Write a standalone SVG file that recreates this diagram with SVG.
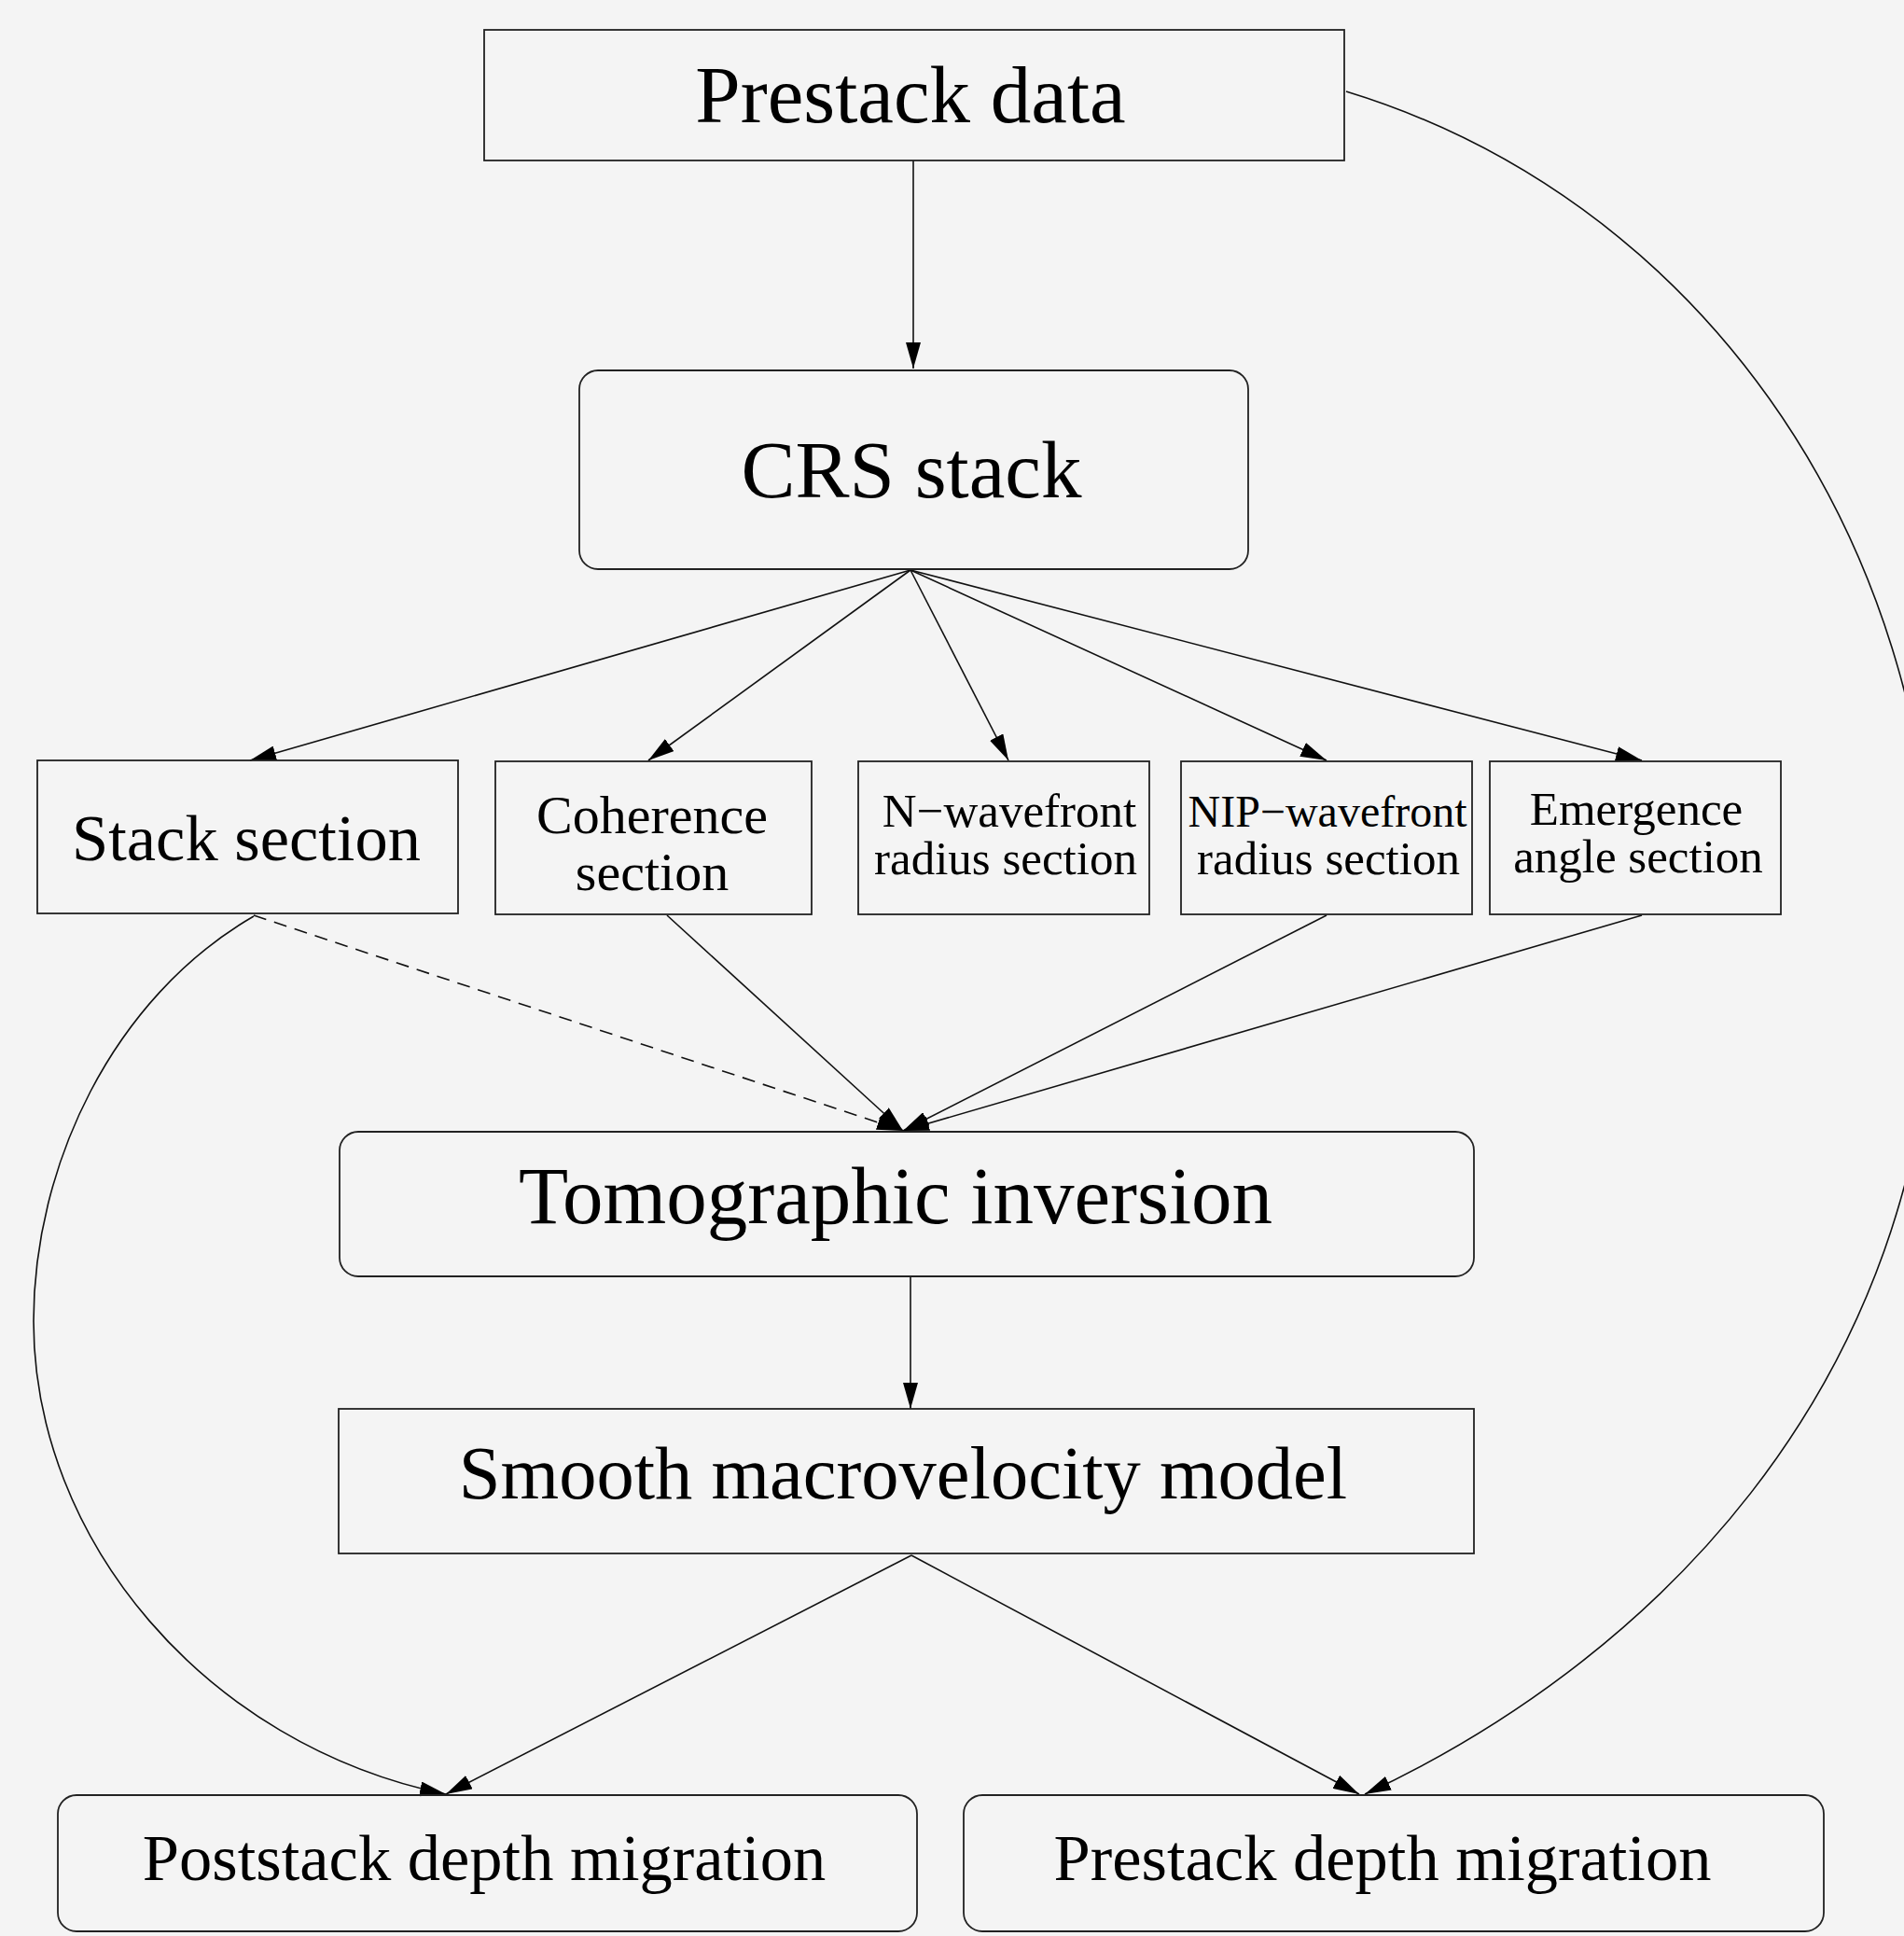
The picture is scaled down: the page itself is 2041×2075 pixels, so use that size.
<svg xmlns="http://www.w3.org/2000/svg" width="2041" height="2075" viewBox="0 0 2041 2075">
<style>
.box{fill:none;stroke:#222;stroke-width:1.8}
.ln{fill:none;stroke:#111;stroke-width:1.6}
.dash{stroke-dasharray:14 9}
text{font-family:"Liberation Serif","Times New Roman",serif;fill:#000;text-anchor:middle}
.f87{font-size:87px}.f80{font-size:80.5px}.f70{font-size:70.5px}.f58{font-size:58px}.f51{font-size:51px}.f48{font-size:48px}
</style>
<defs>
<marker id="arr" viewBox="0 0 28 16" refX="28" refY="8" markerWidth="28" markerHeight="16" markerUnits="userSpaceOnUse" orient="auto">
<path d="M0,0 L28,8 L0,16 z" fill="#000"/>
</marker>
</defs>
<rect width="2041" height="2075" fill="#f4f4f4"/>
<g id="connectors">
<line class="ln" x1="979" y1="172" x2="979" y2="395" marker-end="url(#arr)"/>
<line class="ln" x1="976" y1="611" x2="268" y2="815" marker-end="url(#arr)"/>
<line class="ln" x1="976" y1="611" x2="695" y2="815" marker-end="url(#arr)"/>
<line class="ln" x1="976" y1="611" x2="1081" y2="815" marker-end="url(#arr)"/>
<line class="ln" x1="976" y1="611" x2="1422" y2="815" marker-end="url(#arr)"/>
<line class="ln" x1="976" y1="611" x2="1760" y2="815" marker-end="url(#arr)"/>
<line class="ln dash" x1="272" y1="981" x2="968" y2="1212" marker-end="url(#arr)"/>
<line class="ln" x1="715" y1="981" x2="968" y2="1212" marker-end="url(#arr)"/>
<line class="ln" x1="1422" y1="981" x2="968" y2="1212" marker-end="url(#arr)"/>
<line class="ln" x1="1760" y1="981" x2="968" y2="1212" marker-end="url(#arr)"/>
<line class="ln" x1="976" y1="1368" x2="976" y2="1510" marker-end="url(#arr)"/>
<line class="ln" x1="977" y1="1667" x2="478" y2="1923" marker-end="url(#arr)"/>
<line class="ln" x1="977" y1="1667" x2="1457" y2="1923" marker-end="url(#arr)"/>
<path class="ln" d="M272,982 C120,1070 36,1250 36,1416 C36,1650 220,1870 478,1923" marker-end="url(#arr)"/>
<path class="ln" d="M1443,98 C1810,210 2075,560 2075,1010 C2075,1500 1750,1790 1463,1923" marker-end="url(#arr)"/>
</g>
<g id="prestack-data">
<rect class="box" x="519" y="32" width="922" height="140"/>
<text class="f87" x="976" y="131">Prestack data</text>
</g>
<g id="crs-stack">
<rect class="box" x="621" y="397" width="717" height="213" rx="20" ry="20"/>
<text class="f87" x="977" y="533">CRS stack</text>
</g>
<g id="stack-section">
<rect class="box" x="40" y="815" width="451" height="164"/>
<text class="f70" x="264" y="922">Stack section</text>
</g>
<g id="coherence-section">
<rect class="box" x="531" y="816" width="339" height="164"/>
<text class="f58" x="699" y="893">Coherence</text>
<text class="f58" x="699" y="954">section</text>
</g>
<g id="n-wavefront">
<rect class="box" x="920" y="816" width="312" height="164"/>
<text class="f51" x="1082" y="886">N−wavefront</text>
<text class="f51" x="1078" y="937">radius section</text>
</g>
<g id="nip-wavefront">
<rect class="box" x="1266" y="816" width="312" height="164"/>
<text class="f48" x="1423" y="886">NIP−wavefront</text>
<text class="f51" x="1424" y="937">radius section</text>
</g>
<g id="emergence-angle">
<rect class="box" x="1597" y="816" width="312" height="164"/>
<text class="f51" x="1754" y="884">Emergence</text>
<text class="f51" x="1756" y="935">angle section</text>
</g>
<g id="tomographic-inversion">
<rect class="box" x="364" y="1213" width="1216" height="155" rx="20" ry="20"/>
<text class="f87" x="960" y="1311">Tomographic inversion</text>
</g>
<g id="smooth-model">
<rect class="box" x="363" y="1510" width="1217" height="155"/>
<text class="f80" x="968" y="1606">Smooth macrovelocity model</text>
</g>
<g id="poststack-migration">
<rect class="box" x="62" y="1924" width="921" height="146" rx="20" ry="20"/>
<text class="f70" x="519" y="2015">Poststack depth migration</text>
</g>
<g id="prestack-migration">
<rect class="box" x="1033" y="1924" width="922" height="146" rx="20" ry="20"/>
<text class="f70" x="1482" y="2015">Prestack depth migration</text>
</g>
</svg>
